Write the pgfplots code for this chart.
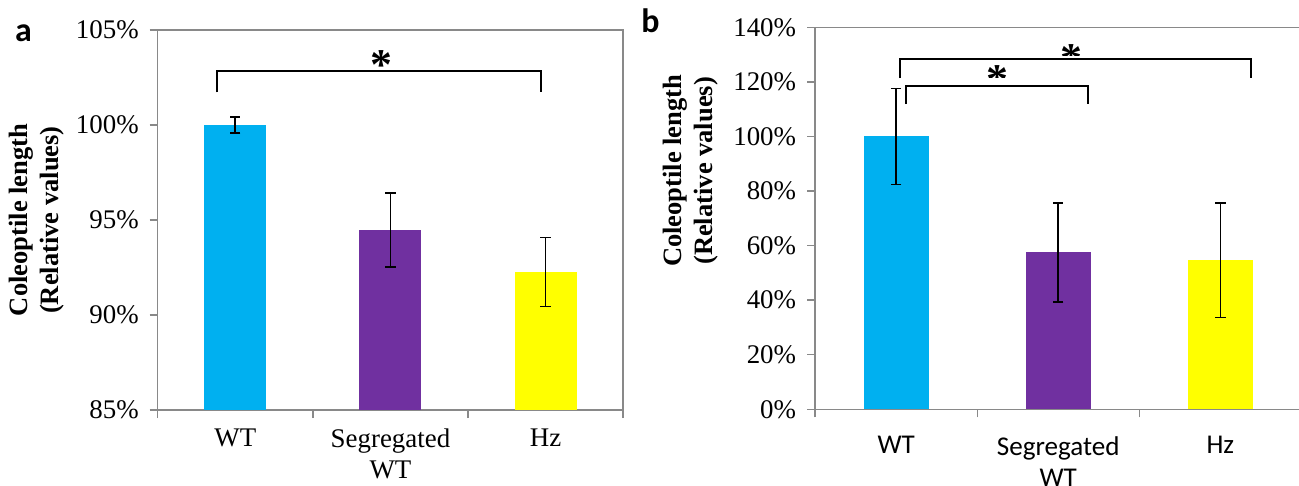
\documentclass[border=0pt]{standalone}
\usepackage{pgfplots}
\pgfplotsset{compat=1.18}
\usepackage{fontspec}
\setmainfont{Liberation Serif}
\newfontfamily\carlito{Carlito}
\definecolor{axgray}{RGB}{137,137,137}
\definecolor{barcyan}{RGB}{0,176,240}
\definecolor{barpurple}{RGB}{112,48,160}
\definecolor{baryellow}{RGB}{255,255,0}
\pgfplotsset{
  mystyle/.style={
    scale only axis,
    ybar, bar shift=0pt, bar width=0.4,
    xmin=-0.5, xmax=2.5,
    xtick={0,1,2},
    minor xtick={-0.5,0.5,1.5,2.5},
    major x tick style={draw=none},
    minor x tick style={draw=axgray, line width=0.7bp},
    minor tick length=4bp, major tick length=4bp,
    tick align=outside, tick pos=left,
    axis line style={draw=axgray, line width=0.7bp},
    ytick style={draw=axgray, line width=0.7bp},
    tick label style={font=\fontsize{13.5}{15.5}\selectfont},
    yticklabel style={xshift=-2bp},
    xticklabel style={align=center},
    ylabel style={font=\bfseries\fontsize{13.3}{15.5}\selectfont, align=center, anchor=center},
    clip=false,
  },
  myerr/.style={draw=none, fill=#1,
    error bars/.cd, y dir=both, y explicit,
    error bar style={black, line width=0.8bp},
    error mark options={black, line width=0.8bp, mark size=2.6bp, rotate=90}},
}
\begin{document}
\begin{tikzpicture}
\useasboundingbox (0,0) rectangle (649.5bp,243bp);
% Panel a
\begin{axis}[mystyle,
  at={(78.85bp,38bp)}, anchor=south west,
  width=232.75bp, height=190bp,
  ymin=85, ymax=105,
  ytick={85,90,95,100,105},
  yticklabels={85\%,90\%,95\%,100\%,105\%},
  xticklabels={WT,{Segregated\\WT},Hz},
  xticklabel style={yshift=-2bp},
  ylabel={Coleoptile length\\(Relative values)},
  ylabel style={at={(axis description cs:-0.2606,0.5)}},
]
\addplot[myerr=barcyan] coordinates {(0,100) +- (0,0.42)};
\addplot[myerr=barpurple] coordinates {(1,94.47) +- (0,1.95)};
\addplot[myerr=baryellow] coordinates {(2,92.26) +- (0,1.81)};
\draw[black, line width=1bp] (axis cs:-0.12,101.72) -- (axis cs:-0.12,102.84) -- (axis cs:1.968,102.84) -- (axis cs:1.968,101.72);
\node[font=\bfseries\fontsize{22}{22}\selectfont, inner sep=0pt, yshift=-1.5bp] at (axis cs:0.94,103.3) {*};
\end{axis}
% Panel b
\begin{axis}[mystyle,
  at={(407.55bp,38.35bp)}, anchor=south west,
  width=243.15bp, height=191bp,
  ymin=0, ymax=140,
  ytick={0,20,40,60,80,100,120,140},
  yticklabels={0\%,20\%,40\%,60\%,80\%,100\%,120\%,140\%},
  xticklabels={WT,{Segregated\\WT},Hz},
  xticklabel style={font=\carlito\fontsize{13.6}{15.5}\selectfont, yshift=-6bp},
  ylabel={Coleoptile length\\(Relative values)},
  ylabel style={at={(axis description cs:-0.2552,0.624)}},
]
\addplot[myerr=barcyan] coordinates {(0,100) +- (0,17.6)};
\addplot[myerr=barpurple] coordinates {(1,57.5) +- (0,18.15)};
\addplot[myerr=baryellow] coordinates {(2,54.7) +- (0,21)};
\draw[black, line width=1bp] (axis cs:0.025,121.4) -- (axis cs:0.025,128.3) -- (axis cs:2.19,128.3) -- (axis cs:2.19,121.4);
\draw[black, line width=1bp] (axis cs:0.062,111.8) -- (axis cs:0.062,118.5) -- (axis cs:1.185,118.5) -- (axis cs:1.185,111.8);
\coordinate (s1) at (axis cs:1.08,131.3);
\coordinate (c1a) at (axis cs:0.9,129.6);
\coordinate (c1b) at (axis cs:1.3,137);
\coordinate (s2) at (axis cs:0.627,123.3);
\coordinate (c2a) at (axis cs:0.45,121.55);
\coordinate (c2b) at (axis cs:0.85,128);
\end{axis}
\begin{scope}
\clip (c1a) rectangle (c1b);
\node[font=\bfseries\fontsize{22}{22}\selectfont, inner sep=0pt, yshift=-3.8bp] at (s1) {*};
\end{scope}
\begin{scope}
\clip (c2a) rectangle (c2b);
\node[font=\bfseries\fontsize{22}{22}\selectfont, inner sep=0pt, yshift=-3.8bp] at (s2) {*};
\end{scope}
\node[font=\carlito\bfseries\fontsize{17}{17}\selectfont, inner sep=0pt] at (11.7bp,226.5bp) {a};
\node[font=\carlito\bfseries\fontsize{17}{17}\selectfont, inner sep=0pt] at (325.25bp,232.75bp) {b};
\end{tikzpicture}
\end{document}
